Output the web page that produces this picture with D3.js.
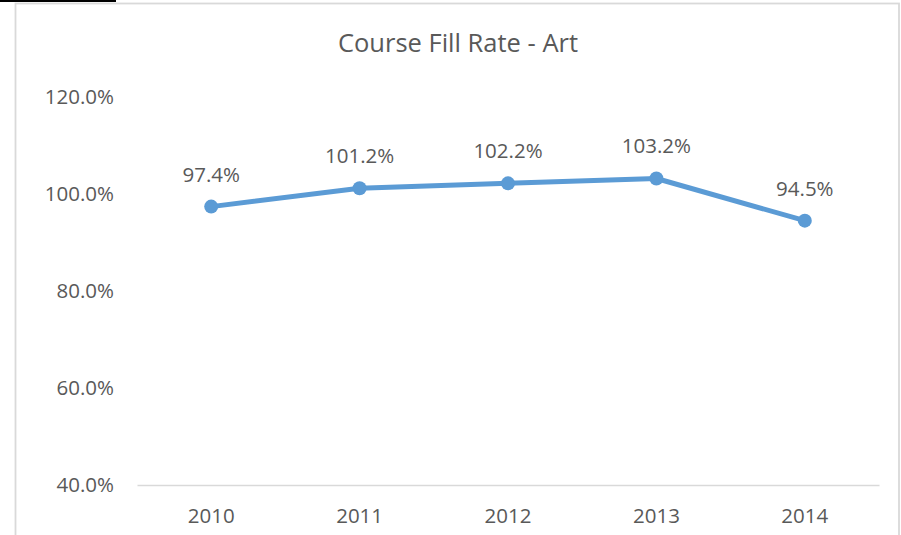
<!DOCTYPE html>
<html>
<head>
<meta charset="utf-8">
<script src="https://cdn.jsdelivr.net/npm/d3@7"></script>
<style>
  body { margin: 0; background: #fff; }
  text { font-family: "Open Sans", "Noto Sans", sans-serif; fill: #595959; }
</style>
</head>
<body>
<svg id="chart" width="901" height="535"></svg>
<script>
// Data.
const years = ["2010", "2011", "2012", "2013", "2014"];
const fillRate = [97.4, 101.2, 102.2, 103.2, 94.5];
const yTicks = [40, 60, 80, 100, 120];

const svg = d3.select("#chart");

// Dimensions.
const margin = { top: 97, right: 22, bottom: 50, left: 137 };
const width = 901 - margin.left - margin.right;
const height = 485 - margin.top;

// Frame of the chart area and the little black rule top left.
svg.append("rect")
    .attr("x", 15.5).attr("y", 3.5)
    .attr("width", 883.5).attr("height", 540)
    .attr("fill", "none")
    .attr("stroke", "#d9d9d9")
    .attr("stroke-width", 1.8);
svg.append("rect")
    .attr("x", 0).attr("y", 0)
    .attr("width", 116).attr("height", 2)
    .attr("fill", "#000");

const xScale = d3.scaleBand()
    .domain(years)
    .range([0, width]);

const yScale = d3.scaleLinear()
    .domain([40, 120])
    .range([height, 0]);

const g = svg.append("g")
    .attr("transform", "translate(" + margin.left + "," + margin.top + ")");

// Title.
svg.append("text")
    .attr("x", 458).attr("y", 52)
    .attr("text-anchor", "middle")
    .style("font-size", "25.5px")
    .text("Course Fill Rate - Art");

// Y axis labels.
const yAxis = g.append("g")
    .call(d3.axisLeft(yScale).tickValues(yTicks).tickSize(0).tickPadding(23)
        .tickFormat(d => d.toFixed(1) + "%"));
yAxis.select(".domain").remove();
yAxis.selectAll("text").style("font-size", "20.5px").attr("fill", "#595959");

// X axis.
const xAxis = g.append("g")
    .attr("transform", "translate(0," + height + ")")
    .call(d3.axisBottom(xScale).tickSize(0).tickPadding(23));
xAxis.select(".domain").attr("stroke", "#d9d9d9").attr("stroke-width", 1.5);
xAxis.selectAll("text").style("font-size", "20.5px").attr("fill", "#595959");

const cx = d => xScale(d) + xScale.bandwidth() / 2;

// Line.
const line = d3.line()
    .x((d, i) => cx(years[i]))
    .y(d => yScale(d));

g.append("path")
    .datum(fillRate)
    .attr("d", line)
    .attr("fill", "none")
    .attr("stroke", "#5b9bd5")
    .attr("stroke-width", 5)
    .attr("stroke-linejoin", "round");

g.selectAll("circle")
    .data(fillRate)
    .enter().append("circle")
    .attr("cx", (d, i) => cx(years[i]))
    .attr("cy", d => yScale(d))
    .attr("r", 7)
    .attr("fill", "#5b9bd5");

g.selectAll(".lbl")
    .data(fillRate)
    .enter().append("text")
    .attr("class", "lbl")
    .attr("x", (d, i) => cx(years[i]))
    .attr("y", d => yScale(d) - 25)
    .attr("text-anchor", "middle")
    .style("font-size", "20.5px")
    .text(d => d.toFixed(1) + "%");
</script>
</body>
</html>
